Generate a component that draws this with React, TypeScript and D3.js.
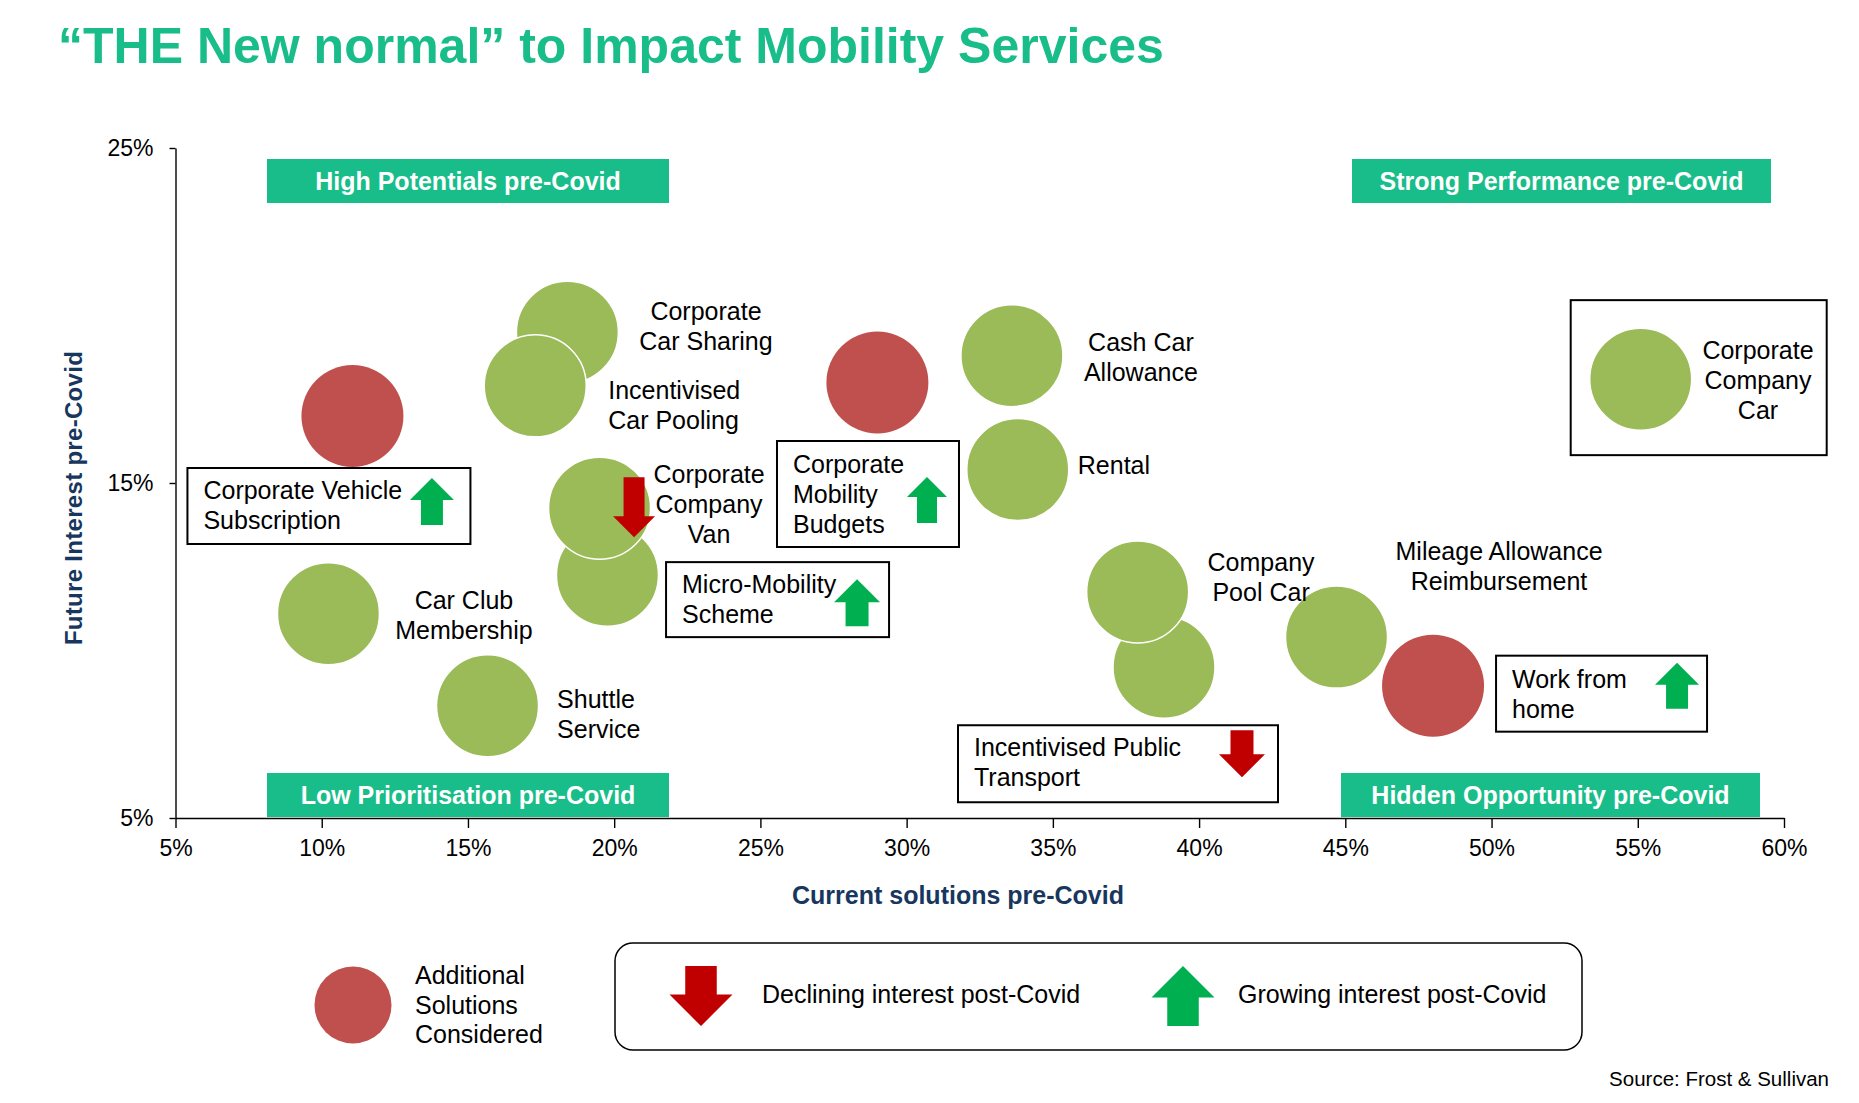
import { useEffect, useRef } from 'react';
import * as d3 from 'd3';

// ---- data ----
const categories = [
  'Corporate Car Sharing',
  'Incentivised Car Pooling',
  'Corporate Vehicle Subscription',
  'Micro-Mobility Scheme',
  'Corporate Company Van',
  'Car Club Membership',
  'Shuttle Service',
  'Corporate Mobility Budgets',
  'Cash Car Allowance',
  'Rental',
  'Incentivised Public Transport',
  'Company Pool Car',
  'Mileage Allowance Reimbursement',
  'Work from home',
  'Corporate Company Car',
];
// % current solutions pre-Covid
const currentSolutions = [18.4, 17.3, 11.05, 19.77, 19.5, 10.23, 15.67, 29.0, 33.6, 33.8, 38.8, 37.9, 44.7, 48.0, 55.1];
// % future interest pre-Covid
const futureInterest = [19.5, 17.9, 17.0, 12.25, 14.25, 11.1, 8.35, 18.0, 18.8, 15.4, 9.5, 11.75, 10.4, 8.95, 18.1];
const additionalSolution = [false, false, true, false, false, false, false, true, false, false, false, false, false, true, false];
const postCovidTrend: (string | null)[] = [null, null, 'up', 'up', 'down', null, null, 'up', null, null, 'down', null, null, 'up', null];

const xTicks = [5, 10, 15, 20, 25, 30, 35, 40, 45, 50, 55, 60];
const yTicks = [5, 15, 25];

const quadrants = [
  { label: 'High Potentials pre-Covid', x: 267, y: 159, w: 402 },
  { label: 'Strong Performance pre-Covid', x: 1352, y: 159, w: 419 },
  { label: 'Low Prioritisation pre-Covid', x: 267, y: 773, w: 402 },
  { label: 'Hidden Opportunity pre-Covid', x: 1341, y: 773, w: 419 },
];

// ---- label layout, offsets from bubble centre ----
type Label = {
  lines: string[];
  anchor?: 'start' | 'middle';
  dx: number;
  dy: number;
  box?: { dx: number; dy: number; w: number; h: number };
  arrow?: { dx: number; dy: number; w: number; h: number };
};
const labels: Label[] = [
  { lines: ['Corporate', 'Car Sharing'], anchor: 'middle', dx: 138.6, dy: -12 },
  { lines: ['Incentivised', 'Car Pooling'], anchor: 'start', dx: 73, dy: 13 },
  {
    lines: ['Corporate Vehicle', 'Subscription'], dx: -149, dy: 83,
    box: { dx: -165, dy: 52, w: 283, h: 76 },
    arrow: { dx: 79.5, dy: 62, w: 44, h: 47 },
  },
  {
    lines: ['Micro-Mobility', 'Scheme'], dx: 74.6, dy: 18,
    box: { dx: 58.6, dy: -13, w: 223, h: 75 },
    arrow: { dx: 249.6, dy: 4, w: 46, h: 47 },
  },
  {
    lines: ['Corporate', 'Company', 'Van'], anchor: 'middle', dx: 109.5, dy: -25,
    arrow: { dx: 34.5, dy: -31, w: 42, h: 60 },
  },
  { lines: ['Car Club', 'Membership'], anchor: 'middle', dx: 135.5, dy: -4.7 },
  { lines: ['Shuttle', 'Service'], anchor: 'start', dx: 69.5, dy: 2 },
  {
    lines: ['Corporate', 'Mobility', 'Budgets'], dx: -84.4, dy: 90.5,
    box: { dx: -100.4, dy: 58.5, w: 182, h: 106 },
    arrow: { dx: 49.6, dy: 94.5, w: 40, h: 46 },
  },
  { lines: ['Cash Car', 'Allowance'], anchor: 'middle', dx: 129, dy: -4.7 },
  { lines: ['Rental'], anchor: 'start', dx: 60, dy: 4.4 },
  {
    lines: ['Incentivised Public', 'Transport'], dx: -190, dy: 89,
    box: { dx: -206, dy: 58, w: 320, h: 77 },
    arrow: { dx: 78, dy: 63, w: 46, h: 47 },
  },
  { lines: ['Company', 'Pool Car'], anchor: 'middle', dx: 123.4, dy: -21 },
  { lines: ['Mileage Allowance', 'Reimbursement'], anchor: 'middle', dx: 162.5, dy: -77 },
  {
    lines: ['Work from', 'home'], dx: 79, dy: 2,
    box: { dx: 63, dy: -30, w: 211, h: 76 },
    arrow: { dx: 244, dy: -23, w: 44, h: 46 },
  },
  {
    lines: ['Corporate', 'Company', 'Car'], anchor: 'middle', dx: 117.3, dy: -20,
    box: { dx: -70, dy: -79, w: 256, h: 155 },
  },
];

const W = 1859;
const H = 1103;
const FONT = '"Liberation Sans", Arial, Helvetica, sans-serif';
const GREEN = '#9BBB59';
const RED = '#C0504D';
const TEAL = '#19BD89';
const NAVY = '#17375E';
const UP = '#00B050';
const DOWN = '#C00000';
const R = 51;

// arrow path: (cx, top) is the top of the arrow's bounding box
function arrowPath(cx: number, top: number, w: number, h: number, dir: string) {
  const hh = w / 2;
  const sw = w / 2;
  const p = d3.path();
  if (dir === 'up') {
    p.moveTo(cx, top);
    p.lineTo(cx + w / 2, top + hh);
    p.lineTo(cx + sw / 2, top + hh);
    p.lineTo(cx + sw / 2, top + h);
    p.lineTo(cx - sw / 2, top + h);
    p.lineTo(cx - sw / 2, top + hh);
    p.lineTo(cx - w / 2, top + hh);
  } else {
    p.moveTo(cx - sw / 2, top);
    p.lineTo(cx + sw / 2, top);
    p.lineTo(cx + sw / 2, top + h - hh);
    p.lineTo(cx + w / 2, top + h - hh);
    p.lineTo(cx, top + h);
    p.lineTo(cx - w / 2, top + h - hh);
    p.lineTo(cx - sw / 2, top + h - hh);
  }
  p.closePath();
  return p.toString();
}

export default function App() {
  const svgRef = useRef<SVGSVGElement>(null);

  useEffect(() => {
    if (!svgRef.current) return;
    const svg = d3.select(svgRef.current);
    svg.selectAll('*').remove();
    svg.attr('width', W).attr('height', H).attr('font-family', FONT);

    svg.append('rect').attr('width', W).attr('height', H).attr('fill', '#fff');

    const x = d3.scaleLinear().domain([5, 60]).range([175.5, 1784]);
    const y = d3.scaleLinear().domain([5, 25]).range([818, 148]);

    // title
    svg.append('text')
      .attr('x', 58).attr('y', 63)
      .attr('font-size', 50).attr('font-weight', 'bold').attr('fill', TEAL)
      .text('\u201CTHE New normal\u201D to Impact Mobility Services');

    // quadrant labels
    quadrants.forEach((q) => {
      svg.append('rect').attr('x', q.x).attr('y', q.y).attr('width', q.w).attr('height', 44).attr('fill', TEAL);
      svg.append('text')
        .attr('x', q.x + q.w / 2).attr('y', q.y + 31)
        .attr('text-anchor', 'middle').attr('font-size', 25).attr('font-weight', 'bold').attr('fill', '#fff')
        .text(q.label);
    });

    // axes
    const xAxis = svg.append('g')
      .attr('transform', `translate(0,${y(5)})`)
      .call(d3.axisBottom(x).tickValues(xTicks).tickFormat((d) => `${d}%`).tickSize(10).tickPadding(12).tickSizeOuter(0));
    const yAxis = svg.append('g')
      .attr('transform', `translate(${x(5)},0)`)
      .call(d3.axisLeft(y).tickValues(yTicks).tickFormat((d) => `${d}%`).tickSize(6).tickPadding(16).tickSizeOuter(0));
    [xAxis, yAxis].forEach((a) => {
      a.attr('font-family', FONT).attr('font-size', 23);
      a.selectAll('path, line').attr('stroke', '#000').attr('stroke-width', 1.4);
      a.selectAll('text').attr('fill', '#000');
    });

    svg.append('text')
      .attr('x', 958).attr('y', 904)
      .attr('text-anchor', 'middle').attr('font-size', 25).attr('font-weight', 'bold').attr('fill', NAVY)
      .text('Current solutions pre-Covid');
    svg.append('text')
      .attr('transform', `translate(82,498) rotate(-90)`)
      .attr('text-anchor', 'middle').attr('font-size', 24).attr('font-weight', 'bold').attr('fill', NAVY)
      .attr('letter-spacing', 0.3)
      .text('Future Interest pre-Covid');

    // bubbles
    const pts = categories.map((c, i) => ({
      name: c,
      cx: x(currentSolutions[i]),
      cy: y(futureInterest[i]),
      red: additionalSolution[i],
      trend: postCovidTrend[i],
      label: labels[i],
    }));

    svg.append('g').selectAll('circle')
      .data(pts)
      .join('circle')
      .attr('cx', (d) => d.cx)
      .attr('cy', (d) => d.cy)
      .attr('r', R)
      .attr('fill', (d) => (d.red ? RED : GREEN))
      .attr('stroke', (d) => (d.red ? 'none' : '#fff'))
      .attr('stroke-width', 1.5);

    // labels, boxes, arrows
    const lg = svg.append('g');
    pts.forEach((d) => {
      const l = d.label;
      if (l.box) {
        lg.append('rect')
          .attr('x', d.cx + l.box.dx).attr('y', d.cy + l.box.dy)
          .attr('width', l.box.w).attr('height', l.box.h)
          .attr('fill', l.anchor === 'middle' ? 'none' : '#fff')
          .attr('stroke', '#000').attr('stroke-width', 2);
      }
      const t = lg.append('text')
        .attr('font-size', 25).attr('fill', '#000')
        .attr('text-anchor', l.anchor ?? 'start');
      l.lines.forEach((line, k) => {
        t.append('tspan').attr('x', d.cx + l.dx).attr('y', d.cy + l.dy + k * 30).text(line);
      });
      if (l.arrow && d.trend) {
        lg.append('path')
          .attr('d', arrowPath(d.cx + l.arrow.dx, d.cy + l.arrow.dy, l.arrow.w, l.arrow.h, d.trend))
          .attr('fill', d.trend === 'up' ? UP : DOWN);
      }
    });

    // bottom legend
    svg.append('circle').attr('cx', 353).attr('cy', 1005).attr('r', 38.5).attr('fill', RED);
    const lt = svg.append('text').attr('font-size', 25).attr('fill', '#000');
    ['Additional', 'Solutions', 'Considered'].forEach((s, k) => {
      lt.append('tspan').attr('x', 415).attr('y', 984 + k * 29.5).text(s);
    });
    svg.append('rect')
      .attr('x', 615).attr('y', 943).attr('width', 967).attr('height', 107).attr('rx', 18)
      .attr('fill', 'none').attr('stroke', '#000').attr('stroke-width', 1.5);
    svg.append('path').attr('d', arrowPath(701, 966, 63, 60, 'down')).attr('fill', DOWN);
    svg.append('text').attr('x', 762).attr('y', 1003).attr('font-size', 25).text('Declining interest post-Covid');
    svg.append('path').attr('d', arrowPath(1183, 966, 63, 60, 'up')).attr('fill', UP);
    svg.append('text').attr('x', 1238).attr('y', 1003).attr('font-size', 25).text('Growing interest post-Covid');

    svg.append('text')
      .attr('x', 1829).attr('y', 1086).attr('text-anchor', 'end').attr('font-size', 20.5)
      .text('Source: Frost & Sullivan');
  }, []);

  return <svg ref={svgRef} style={{ position: 'absolute', left: 0, top: 0, display: 'block' }} />;
}
